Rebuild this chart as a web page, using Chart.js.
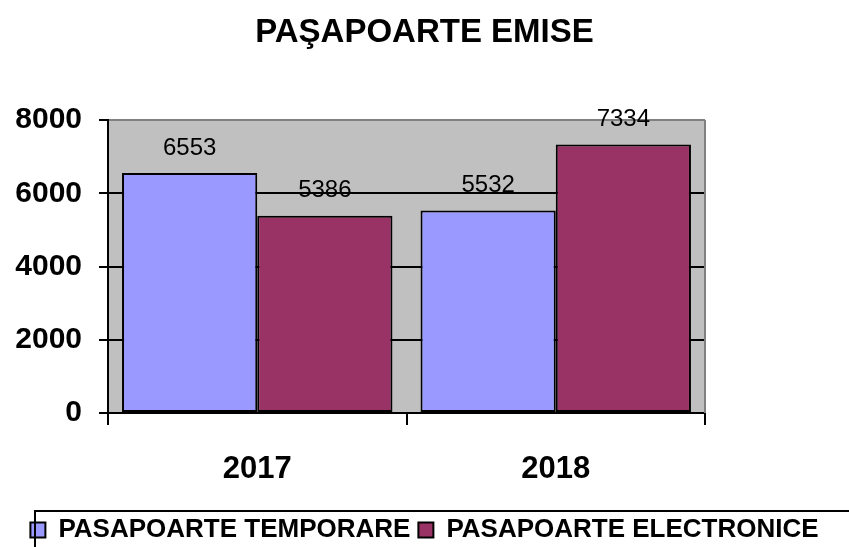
<!DOCTYPE html>
<html>
<head>
<meta charset="utf-8">
<script src="https://cdn.jsdelivr.net/npm/chart.js@4/dist/chart.umd.min.js"></script>
<style>
  html, body { margin: 0; padding: 0; background: #fff; }
  #wrap { width: 849px; height: 547px; }
</style>
</head>
<body>
<div id="wrap"><canvas id="pasChart"></canvas></div>
<script>
    // Data
    const years = ['2017', '2018'];
    const temporare = [6553, 5532];
    const electronice = [5386, 7334];
    const yTicks = [0, 2000, 4000, 6000, 8000];

    const FONT = '"Liberation Sans", Arial, sans-serif';

    // grey plot background + right border
    const plotBackground = {
        id: 'plotBackground',
        beforeDraw(chart) {
            const a = chart.chartArea;
            const ctx = chart.ctx;
            ctx.save();
            ctx.fillStyle = '#C0C0C0';
            ctx.fillRect(a.left, a.top, a.right - a.left, a.bottom - a.top);
            ctx.restore();
        },
        afterDraw(chart) {
            const a = chart.chartArea;
            const ctx = chart.ctx;
            ctx.save();
            ctx.strokeStyle = '#808080';
            ctx.lineWidth = 2;
            ctx.beginPath();
            ctx.moveTo(a.right, a.top);
            ctx.lineTo(a.right, a.bottom);
            ctx.stroke();
            // box around the legend
            const lg = chart.legend;
            ctx.strokeStyle = '#000';
            ctx.lineWidth = 2;
            ctx.strokeRect(35, lg.top + 2, 900, 100);
            ctx.restore();
        }
    };

    // value labels above the bars
    const valueLabels = {
        id: 'valueLabels',
        afterDatasetsDraw(chart) {
            const ctx = chart.ctx;
            ctx.save();
            ctx.font = '24px ' + FONT;
            ctx.fillStyle = '#000';
            ctx.textAlign = 'center';
            ctx.textBaseline = 'middle';
            chart.data.datasets.forEach((ds, i) => {
                chart.getDatasetMeta(i).data.forEach((bar, j) => {
                    ctx.fillText(ds.data[j], bar.x, bar.y - 25);
                });
            });
            ctx.restore();
        }
    };

    new Chart(document.getElementById('pasChart').getContext('2d'), {
        type: 'bar',
        data: {
            labels: years,
            datasets: [{
                label: 'PASAPOARTE TEMPORARE',
                data: temporare,
                backgroundColor: '#9999FF',
                borderColor: '#000',
                borderWidth: 2,
                borderSkipped: false,
                categoryPercentage: 0.906,
                barPercentage: 1
            }, {
                label: 'PASAPOARTE ELECTRONICE',
                data: electronice,
                backgroundColor: '#993366',
                borderColor: '#000',
                borderWidth: 2,
                borderSkipped: false,
                categoryPercentage: 0.906,
                barPercentage: 1
            }]
        },
        options: {
            responsive: true,
            maintainAspectRatio: false,
            animation: false,
            layout: { padding: { left: 0, right: 0, top: 0, bottom: -6 } },
            plugins: {
                title: {
                    display: true,
                    text: 'PAŞAPOARTE EMISE',
                    color: '#000',
                    font: { family: FONT, size: 33, weight: 'bold' },
                    padding: { top: 13, bottom: 67.4 }
                },
                legend: {
                    position: 'bottom',
                    labels: {
                        color: '#000',
                        font: { family: FONT, size: 26, weight: 'bold' },
                        boxWidth: 15,
                        boxHeight: 15,
                        padding: 8
                    }
                },
                tooltip: { enabled: false }
            },
            scales: {
                x: {
                    grid: {
                        drawOnChartArea: false,
                        drawTicks: true,
                        tickLength: 12,
                        tickColor: '#000',
                        lineWidth: 2
                    },
                    border: { color: '#000', width: 2 },
                    ticks: {
                        color: '#000',
                        padding: 26,
                        font: { family: FONT, size: 31, weight: 'bold' }
                    },
                    afterFit(s) { s.height = chart_bottom_gap(s); }
                },
                y: {
                    min: 0,
                    max: 8000,
                    afterBuildTicks(s) { s.ticks = yTicks.map(v => ({ value: v })); },
                    grid: {
                        color: ctx => ctx.tick && ctx.tick.value === 8000 ? '#808080' : '#000',
                        tickColor: '#000',
                        tickLength: 9,
                        lineWidth: 2
                    },
                    border: { color: '#000', width: 2 },
                    ticks: {
                        color: '#000',
                        padding: 17,
                        font: { family: FONT, size: 30, weight: 'bold' },
                        callback: v => String(v)
                    },
                    afterFit(s) { s.width = 108; }
                },
                spacer: {
                    position: 'right',
                    display: true,
                    grid: { display: false },
                    border: { display: false },
                    ticks: { display: false },
                    afterFit(s) { s.width = 144; }
                }
            }
        },
        plugins: [plotBackground, valueLabels]
    });

    // x axis fills the space between the plot bottom (y=413) and the legend
    function chart_bottom_gap(s) {
        const lg = s.chart.legend;
        return Math.max(40, s.chart.height + 6 - lg.height - 413);
    }
</script>
</body>
</html>
